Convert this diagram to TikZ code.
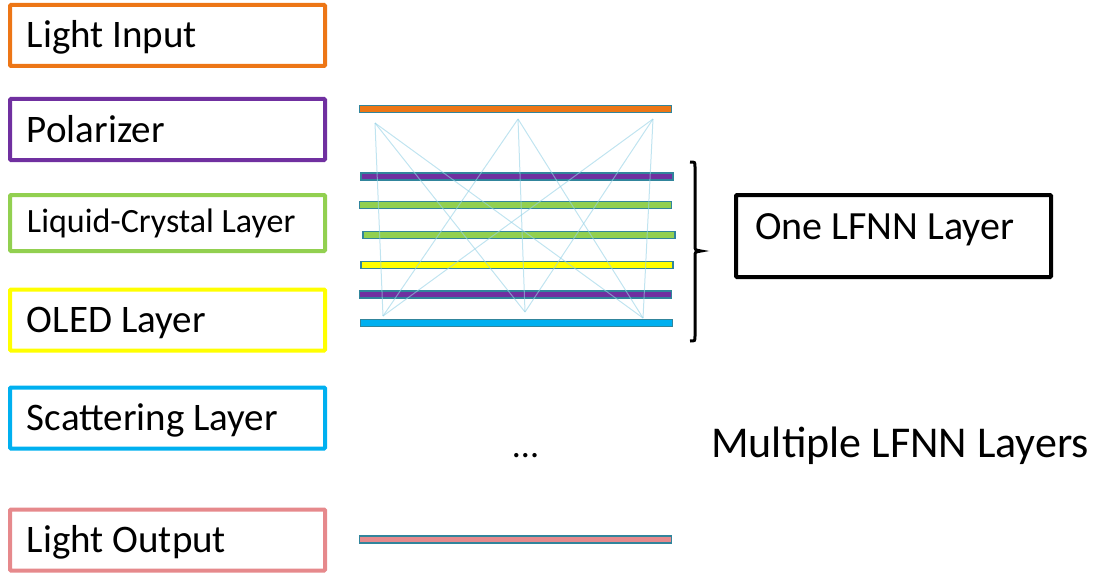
\documentclass[tikz,border=0pt]{standalone}
\usepackage{fontspec}
\setmainfont{Carlito}
\definecolor{lforange}{RGB}{237,118,22}
\definecolor{lfpurple}{RGB}{112,48,160}
\definecolor{lfgreen}{RGB}{146,208,80}
\definecolor{lfyellow}{RGB}{255,255,0}
\definecolor{lfblue}{RGB}{0,176,240}
\definecolor{lfpink}{RGB}{230,137,140}
\definecolor{lfedge}{RGB}{49,133,156}
\definecolor{lflink}{RGB}{150,210,230}
\begin{document}
\begin{tikzpicture}[x=1pt,y=-1pt,
  layerbox/.style={draw,line width=4pt,rounded corners=1pt,minimum width=315pt,minimum height=61pt,
    inner xsep=17pt,text width=281pt,align=flush left,text height=27pt,text depth=2pt,
    font=\fontsize{39}{43}\selectfont},
  bar/.style={draw=lfedge,line width=1.5pt,minimum width=312pt,minimum height=7pt,inner sep=0pt},
  link/.style={draw=lflink,line width=1pt,opacity=0.6}]
\useasboundingbox (0,0) rectangle (1099,575);
\node[layerbox,draw=lforange] (input) at (167.5,35.5) {Light Input};
\node[layerbox,draw=lfpurple] (polar) at (167.5,129.5) {Polarizer};
\node[layerbox,draw=lfgreen,minimum height=56pt,text height=20pt,
  font=\fontsize{34}{38}\selectfont] (lc) at (167.5,223) {Liquid-Crystal Layer};
\node[layerbox,draw=lfyellow] (oled) at (167.5,320) {OLED Layer};
\node[layerbox,draw=lfblue] (scatter) at (167.5,418) {Scattering Layer};
\node[layerbox,draw=lfpink] (output) at (167.5,540) {Light Output};
\node[bar,fill=lforange] (barin) at (515.5,109) {};
\node[bar,fill=lfpurple] (barpol1) at (517,176.5) {};
\node[bar,fill=lfgreen] (barlc1) at (515.5,205) {};
\node[bar,fill=lfgreen] (barlc2) at (519,235) {};
\node[bar,fill=lfyellow] (baroled) at (517,265) {};
\node[bar,fill=lfpurple] (barpol2) at (515.5,294.5) {};
\node[bar,fill=lfblue] (barsc) at (516.5,323) {};
\node[bar,fill=lfpink] (barout) at (515.5,539.5) {};
\coordinate (t1) at (375,123);
\coordinate (t2) at (518,119);
\coordinate (t3) at (653,119);
\coordinate (b1) at (383,316);
\coordinate (b2) at (525,312);
\coordinate (b3) at (643,318);
\foreach \t in {t1,t2,t3}
  \foreach \b in {b1,b2,b3}
    \draw[link] (\t) -- (\b);
\draw[line width=3pt] (690,162) .. controls (695,162) .. (695,167) -- (695,246)
  .. controls (695,250) .. (701,251) .. controls (695,252) .. (695,256) -- (695,336)
  .. controls (695,341) .. (690,341);
\node[draw,line width=4pt,rounded corners=1pt,minimum width=315pt,minimum height=82pt,
  inner xsep=19pt,text width=277pt,align=flush left,text height=25pt,text depth=19pt,
  font=\fontsize{40}{44}\selectfont] (one) at (893.5,236) {One LFNN Layer};
\node[anchor=base,font=\fontsize{36}{40}\selectfont] (dots) at (525.5,457) {...};
\node[anchor=base west,inner sep=0pt,font=\fontsize{44}{48}\selectfont] (multi) at (711,457) {Multiple LFNN Layers};
\end{tikzpicture}
\end{document}
